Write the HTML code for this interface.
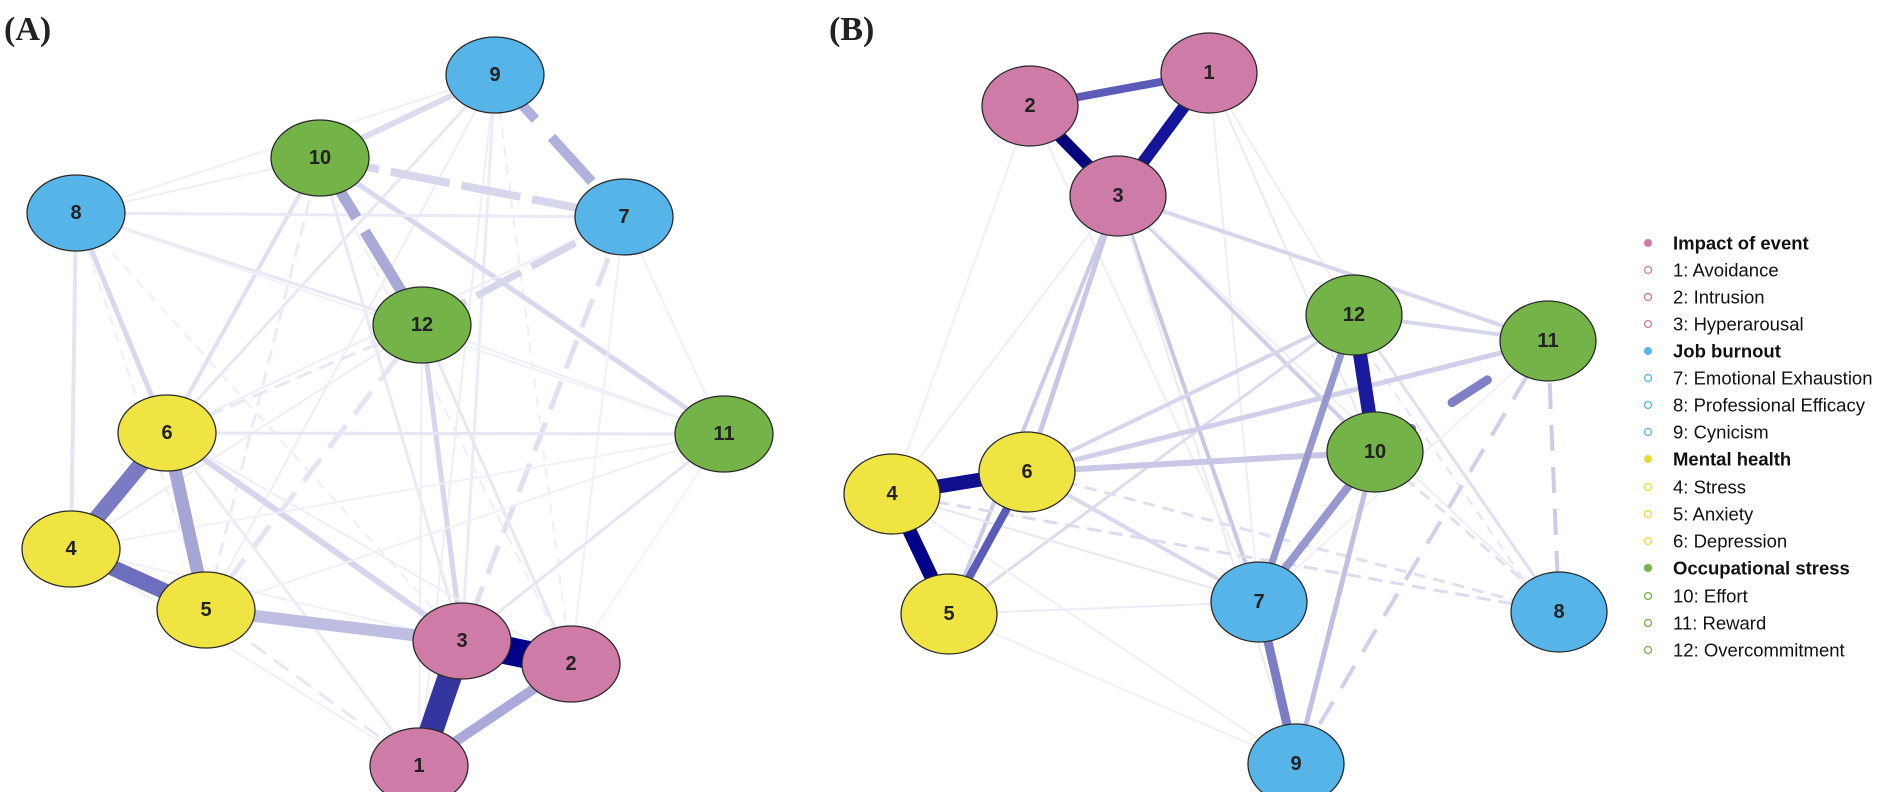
<!DOCTYPE html>
<html><head><meta charset="utf-8"><style>
html,body{margin:0;padding:0;background:#fff;}
svg{display:block;}
.n text{font-family:"Liberation Sans",Arial,sans-serif;font-weight:bold;font-size:20px;fill:#222;text-anchor:middle;dominant-baseline:central;}
.lg{font-family:"Liberation Sans",Arial,sans-serif;font-size:18.5px;fill:#111;dominant-baseline:central;}
.lb{font-weight:bold;}
.t{font-family:"Liberation Serif","Times New Roman",serif;font-weight:bold;font-size:34px;fill:#222;}
</style></head><body>
<svg width="1902" height="792" viewBox="0 0 1902 792" xmlns="http://www.w3.org/2000/svg">
<text class="t" x="4" y="40">(A)</text>
<text class="t" x="829" y="40">(B)</text>
<g stroke-linecap="butt" fill="none">
<line x1="495" y1="75" x2="462" y2="641" stroke="#ECECF6" stroke-width="3"/>
<line x1="495" y1="75" x2="419" y2="766" stroke="#EEEEF7" stroke-width="2"/>
<line x1="495" y1="75" x2="167" y2="433" stroke="#E8E8F4" stroke-width="3"/>
<line x1="495" y1="75" x2="206" y2="610" stroke="#EEEEF7" stroke-width="2"/>
<line x1="495" y1="75" x2="571" y2="664" stroke="#EEEEF7" stroke-width="2" stroke-dasharray="10 8"/>
<line x1="495" y1="75" x2="76" y2="213" stroke="#F0F0F8" stroke-width="2"/>
<line x1="320" y1="158" x2="76" y2="213" stroke="#EEEEF7" stroke-width="2"/>
<line x1="320" y1="158" x2="167" y2="433" stroke="#E0E0F0" stroke-width="4"/>
<line x1="320" y1="158" x2="724" y2="434" stroke="#D8D8EE" stroke-width="5"/>
<line x1="320" y1="158" x2="462" y2="641" stroke="#EAEAF5" stroke-width="3"/>
<line x1="320" y1="158" x2="571" y2="664" stroke="#EEEEF7" stroke-width="2" stroke-dasharray="12 8"/>
<line x1="320" y1="158" x2="206" y2="610" stroke="#ECECF6" stroke-width="3" stroke-dasharray="14 8"/>
<line x1="76" y1="213" x2="624" y2="217" stroke="#EAEAF6" stroke-width="3"/>
<line x1="76" y1="213" x2="167" y2="433" stroke="#D8D8EE" stroke-width="5"/>
<line x1="76" y1="213" x2="71" y2="549" stroke="#E4E4F2" stroke-width="4"/>
<line x1="76" y1="213" x2="462" y2="641" stroke="#EEEEF7" stroke-width="2" stroke-dasharray="10 8"/>
<line x1="76" y1="213" x2="422" y2="325" stroke="#E8E8F4" stroke-width="3"/>
<line x1="76" y1="213" x2="724" y2="434" stroke="#F0F0F8" stroke-width="2"/>
<line x1="76" y1="213" x2="206" y2="610" stroke="#EEEEF7" stroke-width="2" stroke-dasharray="10 8"/>
<line x1="624" y1="217" x2="462" y2="641" stroke="#E0E0F0" stroke-width="5" stroke-dasharray="30 14"/>
<line x1="624" y1="217" x2="724" y2="434" stroke="#F0F0F8" stroke-width="2"/>
<line x1="624" y1="217" x2="571" y2="664" stroke="#F0F0F8" stroke-width="2"/>
<line x1="624" y1="217" x2="167" y2="433" stroke="#EEEEF7" stroke-width="2"/>
<line x1="422" y1="325" x2="462" y2="641" stroke="#D6D6EC" stroke-width="5"/>
<line x1="422" y1="325" x2="206" y2="610" stroke="#E4E4F2" stroke-width="5" stroke-dasharray="28 14"/>
<line x1="422" y1="325" x2="167" y2="433" stroke="#E8E8F4" stroke-width="3" stroke-dasharray="16 8"/>
<line x1="422" y1="325" x2="571" y2="664" stroke="#E8E8F4" stroke-width="3"/>
<line x1="422" y1="325" x2="419" y2="766" stroke="#EEEEF7" stroke-width="2"/>
<line x1="422" y1="325" x2="724" y2="434" stroke="#EEEEF7" stroke-width="2"/>
<line x1="422" y1="325" x2="71" y2="549" stroke="#EEEEF7" stroke-width="2"/>
<line x1="167" y1="433" x2="724" y2="434" stroke="#E6E6F4" stroke-width="3"/>
<line x1="167" y1="433" x2="462" y2="641" stroke="#D6D6EC" stroke-width="6"/>
<line x1="167" y1="433" x2="419" y2="766" stroke="#ECECF6" stroke-width="3"/>
<line x1="167" y1="433" x2="571" y2="664" stroke="#EEEEF7" stroke-width="2"/>
<line x1="724" y1="434" x2="462" y2="641" stroke="#E6E6F4" stroke-width="3"/>
<line x1="724" y1="434" x2="71" y2="549" stroke="#F0F0F8" stroke-width="2"/>
<line x1="724" y1="434" x2="206" y2="610" stroke="#F0F0F8" stroke-width="2"/>
<line x1="724" y1="434" x2="571" y2="664" stroke="#F2F2F9" stroke-width="2"/>
<line x1="71" y1="549" x2="462" y2="641" stroke="#F0F0F8" stroke-width="2"/>
<line x1="71" y1="549" x2="419" y2="766" stroke="#F0F0F8" stroke-width="2"/>
<line x1="206" y1="610" x2="419" y2="766" stroke="#E8E8F4" stroke-width="3" stroke-dasharray="18 10"/>
<line x1="206" y1="610" x2="571" y2="664" stroke="#F0F0F8" stroke-width="2"/>
<line x1="495" y1="75" x2="320" y2="158" stroke="#DCDCEE" stroke-width="6"/>
<line x1="320" y1="158" x2="624" y2="217" stroke="#D6D6EC" stroke-width="8" stroke-dasharray="60 12"/>
<line x1="422" y1="325" x2="624" y2="217" stroke="#D6D6EC" stroke-width="7" stroke-dasharray="50 12"/>
<line x1="495" y1="75" x2="624" y2="217" stroke="#B0B0DC" stroke-width="10" stroke-dasharray="60 24"/>
<line x1="320" y1="158" x2="422" y2="325" stroke="#A9A9D8" stroke-width="11" stroke-dasharray="70 16"/>
<line x1="206" y1="610" x2="462" y2="641" stroke="#BEBEE2" stroke-width="12"/>
<line x1="419" y1="766" x2="571" y2="664" stroke="#AAAADA" stroke-width="10"/>
<line x1="167" y1="433" x2="206" y2="610" stroke="#A5A5D6" stroke-width="13"/>
<line x1="167" y1="433" x2="71" y2="549" stroke="#7B7BC4" stroke-width="16"/>
<line x1="71" y1="549" x2="206" y2="610" stroke="#6E6EBE" stroke-width="16"/>
<line x1="462" y1="641" x2="419" y2="766" stroke="#3535A0" stroke-width="24"/>
<line x1="462" y1="641" x2="571" y2="664" stroke="#00008B" stroke-width="28"/>

<line x1="1030" y1="106" x2="892" y2="494" stroke="#F0F0F8" stroke-width="2"/>
<line x1="1030" y1="106" x2="1259" y2="602" stroke="#EEEEF7" stroke-width="2"/>
<line x1="1209" y1="73" x2="1375" y2="452" stroke="#EAEAF5" stroke-width="2"/>
<line x1="1209" y1="73" x2="1259" y2="602" stroke="#EEEEF7" stroke-width="2"/>
<line x1="1209" y1="73" x2="1354" y2="315" stroke="#EEEEF7" stroke-width="2"/>
<line x1="1118" y1="196" x2="1027" y2="472" stroke="#C8C8E6" stroke-width="5"/>
<line x1="1118" y1="196" x2="949" y2="614" stroke="#CCCCE8" stroke-width="4"/>
<line x1="1118" y1="196" x2="1259" y2="602" stroke="#C8C8E6" stroke-width="4"/>
<line x1="1118" y1="196" x2="1375" y2="452" stroke="#D0D0EA" stroke-width="4"/>
<line x1="1118" y1="196" x2="1548" y2="341" stroke="#D6D6EC" stroke-width="4"/>
<line x1="1118" y1="196" x2="1296" y2="764" stroke="#EAEAF5" stroke-width="2"/>
<line x1="1118" y1="196" x2="892" y2="494" stroke="#EEEEF7" stroke-width="2"/>
<line x1="1118" y1="196" x2="1559" y2="612" stroke="#EEEEF7" stroke-width="2"/>
<line x1="1354" y1="315" x2="1548" y2="341" stroke="#D6D6EC" stroke-width="4"/>
<line x1="1354" y1="315" x2="1027" y2="472" stroke="#D6D6EC" stroke-width="4"/>
<line x1="1354" y1="315" x2="949" y2="614" stroke="#DCDCEE" stroke-width="3"/>
<line x1="1354" y1="315" x2="1559" y2="612" stroke="#E0E0F0" stroke-width="3"/>
<line x1="1344" y1="319" x2="1549" y2="616" stroke="#E6E6F3" stroke-width="2" stroke-dasharray="10 8"/>
<line x1="1548" y1="341" x2="1027" y2="472" stroke="#D0D0EA" stroke-width="5"/>
<line x1="1548" y1="341" x2="1375" y2="452" stroke="#8080C8" stroke-width="9" stroke-linecap="round" stroke-dasharray="0 72 42 48 1 300"/>
<line x1="1548" y1="341" x2="1559" y2="612" stroke="#CCCCE6" stroke-width="4" stroke-dasharray="26 16"/>
<line x1="1548" y1="341" x2="1296" y2="764" stroke="#D0D0EA" stroke-width="4" stroke-dasharray="26 16"/>
<line x1="1548" y1="341" x2="1259" y2="602" stroke="#F0F0F8" stroke-width="2"/>
<line x1="1027" y1="472" x2="1375" y2="452" stroke="#C8C8E6" stroke-width="6"/>
<line x1="1027" y1="472" x2="1259" y2="602" stroke="#D8D8EE" stroke-width="4"/>
<line x1="1027" y1="472" x2="1559" y2="612" stroke="#E0E0F0" stroke-width="3" stroke-dasharray="12 8"/>
<line x1="892" y1="494" x2="1559" y2="612" stroke="#DCDCEE" stroke-width="3" stroke-dasharray="14 8"/>
<line x1="892" y1="494" x2="1259" y2="602" stroke="#E8E8F4" stroke-width="2"/>
<line x1="892" y1="494" x2="1296" y2="764" stroke="#F0F0F8" stroke-width="2"/>
<line x1="949" y1="614" x2="1259" y2="602" stroke="#ECECF6" stroke-width="2"/>
<line x1="949" y1="614" x2="1296" y2="764" stroke="#F0F0F8" stroke-width="2"/>
<line x1="1375" y1="452" x2="1559" y2="612" stroke="#E0E0F0" stroke-width="3" stroke-dasharray="12 8"/>
<line x1="1375" y1="452" x2="1296" y2="764" stroke="#C0C0E2" stroke-width="5"/>
<line x1="1354" y1="315" x2="1259" y2="602" stroke="#9898D0" stroke-width="7"/>
<line x1="1375" y1="452" x2="1259" y2="602" stroke="#9898D0" stroke-width="8"/>
<line x1="1259" y1="602" x2="1296" y2="764" stroke="#7D7DC6" stroke-width="9"/>
<line x1="1030" y1="106" x2="1209" y2="73" stroke="#5C5CB8" stroke-width="8"/>
<line x1="1027" y1="472" x2="949" y2="614" stroke="#5B5BB8" stroke-width="8"/>
<line x1="1209" y1="73" x2="1118" y2="196" stroke="#15159A" stroke-width="12"/>
<line x1="1030" y1="106" x2="1118" y2="196" stroke="#00007F" stroke-width="12"/>
<line x1="892" y1="494" x2="1027" y2="472" stroke="#10108C" stroke-width="14"/>
<line x1="892" y1="494" x2="949" y2="614" stroke="#000088" stroke-width="14"/>
<line x1="1354" y1="315" x2="1375" y2="452" stroke="#1A1A9E" stroke-width="14"/>
</g>

<g class="n" stroke="#2a2a2a" stroke-width="1.3">
<g fill="#56B4E9">
<ellipse cx="495" cy="75" rx="49" ry="38"/><ellipse cx="76" cy="213" rx="49" ry="38"/><ellipse cx="624" cy="217" rx="49" ry="38"/>
<ellipse cx="1259" cy="602" rx="48" ry="40"/><ellipse cx="1559" cy="612" rx="48" ry="40"/><ellipse cx="1296" cy="764" rx="48" ry="40"/>
</g>
<g fill="#74B347">
<ellipse cx="320" cy="158" rx="49" ry="38"/><ellipse cx="422" cy="325" rx="49" ry="38"/><ellipse cx="724" cy="434" rx="49" ry="38"/>
<ellipse cx="1354" cy="315" rx="48" ry="40"/><ellipse cx="1548" cy="341" rx="48" ry="40"/><ellipse cx="1375" cy="452" rx="48" ry="40"/>
</g>
<g fill="#F0E442">
<ellipse cx="167" cy="433" rx="49" ry="38"/><ellipse cx="71" cy="549" rx="49" ry="38"/><ellipse cx="206" cy="610" rx="49" ry="38"/>
<ellipse cx="1027" cy="472" rx="48" ry="40"/><ellipse cx="892" cy="494" rx="48" ry="40"/><ellipse cx="949" cy="614" rx="48" ry="40"/>
</g>
<g fill="#CE7BA8">
<ellipse cx="462" cy="641" rx="49" ry="38"/><ellipse cx="571" cy="664" rx="49" ry="38"/><ellipse cx="419" cy="766" rx="49" ry="38"/>
<ellipse cx="1209" cy="73" rx="48" ry="40"/><ellipse cx="1030" cy="106" rx="48" ry="40"/><ellipse cx="1118" cy="196" rx="48" ry="40"/>
</g>
<g stroke="none">
<text x="495" y="75">9</text><text x="76" y="213">8</text><text x="624" y="217">7</text>
<text x="320" y="158">10</text><text x="422" y="325">12</text><text x="724" y="434">11</text>
<text x="167" y="433">6</text><text x="71" y="549">4</text><text x="206" y="610">5</text>
<text x="462" y="641">3</text><text x="571" y="664">2</text><text x="419" y="766">1</text>
<text x="1259" y="602">7</text><text x="1559" y="612">8</text><text x="1296" y="764">9</text>
<text x="1354" y="315">12</text><text x="1548" y="341">11</text><text x="1375" y="452">10</text>
<text x="1027" y="472">6</text><text x="892" y="494">4</text><text x="949" y="614">5</text>
<text x="1209" y="73">1</text><text x="1030" y="106">2</text><text x="1118" y="196">3</text>
</g>
</g>

<g>
<circle cx="1648" cy="243" r="4" fill="#CE7BA8"/>
<circle cx="1648" cy="270" r="3.5" fill="none" stroke="#CE7BA8" stroke-width="1.3"/>
<circle cx="1648" cy="297" r="3.5" fill="none" stroke="#CE7BA8" stroke-width="1.3"/>
<circle cx="1648" cy="324" r="3.5" fill="none" stroke="#CE7BA8" stroke-width="1.3"/>
<circle cx="1648" cy="351" r="4" fill="#56B4E9"/>
<circle cx="1648" cy="378" r="3.5" fill="none" stroke="#56B4E9" stroke-width="1.3"/>
<circle cx="1648" cy="405" r="3.5" fill="none" stroke="#56B4E9" stroke-width="1.3"/>
<circle cx="1648" cy="432" r="3.5" fill="none" stroke="#56B4E9" stroke-width="1.3"/>
<circle cx="1648" cy="459" r="4" fill="#E8DC3A"/>
<circle cx="1648" cy="487" r="3.5" fill="none" stroke="#E8DC3A" stroke-width="1.3"/>
<circle cx="1648" cy="514" r="3.5" fill="none" stroke="#E8DC3A" stroke-width="1.3"/>
<circle cx="1648" cy="541" r="3.5" fill="none" stroke="#E8DC3A" stroke-width="1.3"/>
<circle cx="1648" cy="568" r="4" fill="#74B347"/>
<circle cx="1648" cy="596" r="3.5" fill="none" stroke="#74B347" stroke-width="1.3"/>
<circle cx="1648" cy="623" r="3.5" fill="none" stroke="#74B347" stroke-width="1.3"/>
<circle cx="1648" cy="650" r="3.5" fill="none" stroke="#74B347" stroke-width="1.3"/>
<text class="lg lb" x="1673" y="243">Impact of event</text>
<text class="lg" x="1673" y="270">1: Avoidance</text>
<text class="lg" x="1673" y="297">2: Intrusion</text>
<text class="lg" x="1673" y="324">3: Hyperarousal</text>
<text class="lg lb" x="1673" y="351">Job burnout</text>
<text class="lg" x="1673" y="378">7: Emotional Exhaustion</text>
<text class="lg" x="1673" y="405">8: Professional Efficacy</text>
<text class="lg" x="1673" y="432">9: Cynicism</text>
<text class="lg lb" x="1673" y="459">Mental health</text>
<text class="lg" x="1673" y="487">4: Stress</text>
<text class="lg" x="1673" y="514">5: Anxiety</text>
<text class="lg" x="1673" y="541">6: Depression</text>
<text class="lg lb" x="1673" y="568">Occupational stress</text>
<text class="lg" x="1673" y="596">10: Effort</text>
<text class="lg" x="1673" y="623">11: Reward</text>
<text class="lg" x="1673" y="650">12: Overcommitment</text>
</g>
</svg>
</body></html>
